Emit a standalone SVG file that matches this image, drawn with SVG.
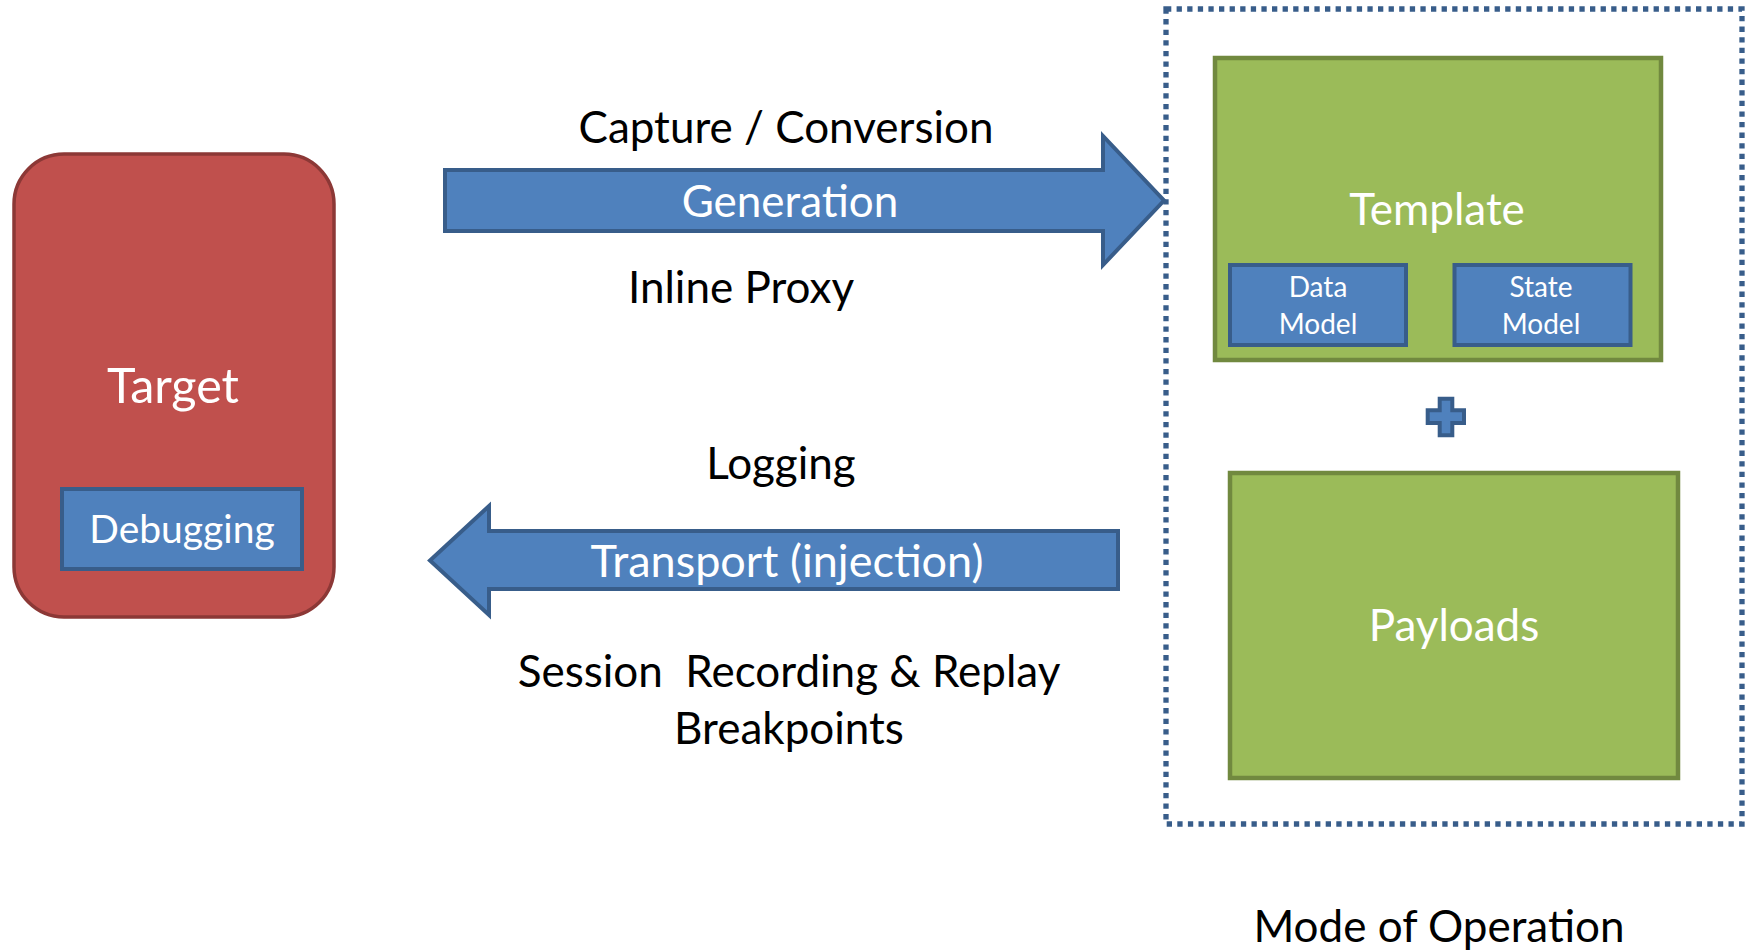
<svg xmlns="http://www.w3.org/2000/svg" width="1748" height="952" viewBox="0 0 1748 952">
<style>
text{font-family:Lato,"Open Sans","Liberation Sans",sans-serif;text-anchor:middle;white-space:pre}
.w{fill:#ffffff}
.k{fill:#000000}
.blue{fill:#4f81bd;stroke:#385d8a;stroke-width:4}
.green{fill:#9bbb59;stroke:#71893f;stroke-width:4.5}
.t44{font-size:44px}
.t28{font-size:28px}
</style>
<rect width="1748" height="952" fill="#ffffff"/>
<g id="mode-of-operation">
<rect x="1166" y="9" width="576" height="815" fill="none" stroke="#385d8a" stroke-width="5.3" stroke-dasharray="5.3 5.3"/>
<text class="k t44" x="1439" y="942">Mode of Operation</text>
</g>
<g id="target">
<rect x="14" y="154" width="320" height="463" rx="50" ry="50" fill="#c0504d" stroke="#8c3836" stroke-width="3.5"/>
<text class="w" x="173" y="403" font-size="48.5">Target</text>
</g>
<g id="debugging">
<rect class="blue" x="62" y="489" width="240" height="80"/>
<text class="w" x="182" y="543" font-size="39">Debugging</text>
</g>
<g id="connectors">
<g id="generation-arrow">
<path class="blue" d="M445,170 H1103 V136 L1164,200.5 L1103,265 V231 H445 Z"/>
<text class="w t44" x="790" y="217">Generation</text>
</g>
<g id="transport-arrow">
<path class="blue" d="M1118,531 H489 V506 L430,560.5 L489,615 V589 H1118 Z"/>
<text class="w" x="787" y="577" font-size="45">Transport (injection)</text>
</g>
</g>
<g id="labels">
<text class="k t44" x="786" y="143">Capture / Conversion</text>
<text class="k t44" x="741" y="303">Inline Proxy</text>
<text class="k t44" x="781" y="479">Logging</text>
<text class="k t44" x="789" y="687">Session  Recording &amp; Replay</text>
<text class="k t44" x="789" y="744">Breakpoints</text>
</g>
<g id="template">
<rect class="green" x="1215" y="58" width="446" height="302"/>
<text class="w t44" x="1437" y="225">Template</text>
</g>
<g id="data-model">
<rect class="blue" x="1230" y="265" width="176" height="80"/>
<text class="w t28" x="1318" y="297">Data</text>
<text class="w t28" x="1318" y="334">Model</text>
</g>
<g id="state-model">
<rect class="blue" x="1454.5" y="265" width="176" height="80"/>
<text class="w t28" x="1541" y="297">State</text>
<text class="w t28" x="1541" y="334">Model</text>
</g>
<g id="plus">
<path class="blue" d="M1439.7,398.7 H1452.3 V410.3 H1464 V423 H1452.3 V435.3 H1439.7 V423 H1427.7 V410.3 H1439.7 Z"/>
</g>
<g id="payloads">
<rect class="green" x="1230" y="473" width="448" height="305"/>
<text class="w t44" x="1454" y="641">Payloads</text>
</g>
</svg>
